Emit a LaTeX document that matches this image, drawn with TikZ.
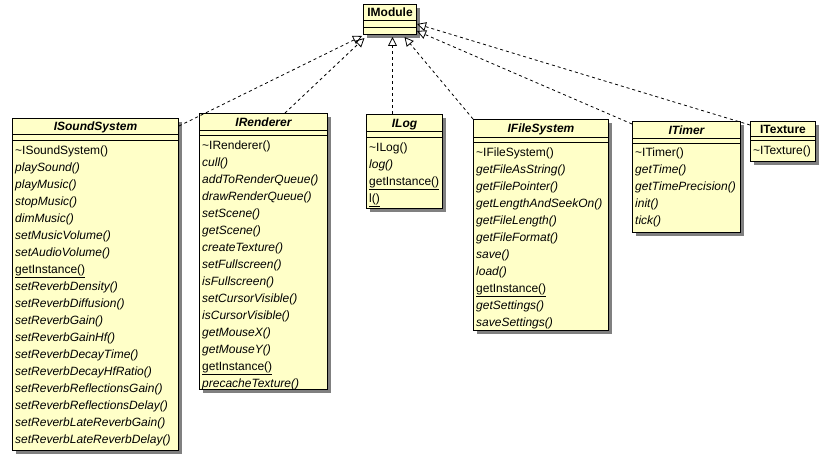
\documentclass[tikz,border=0pt]{standalone}
\usepackage{fontspec}
\setmainfont{Liberation Sans}
\usetikzlibrary{arrows.meta,shadows}
\definecolor{classfill}{RGB}{255,255,200}
\newcommand\abst[1]{\textit{#1}}
\newcommand\stat[1]{\underline{#1}}
\newcommand\tl{\textasciitilde}
\tikzset{
  classbox/.style={draw=black, line width=1pt, fill=classfill, anchor=north west, inner sep=0pt,
    drop shadow={shadow xshift=3.5pt, shadow yshift=-3.5pt, fill=black!50, opacity=1}},
  sepline/.style={draw=black, line width=1pt},
  titlestyle/.style={anchor=base, inner sep=0pt, font=\fontsize{12}{14}\selectfont\bfseries\itshape},
  methodstyle/.style={anchor=base west, inner sep=0pt, font=\fontsize{12}{14}\selectfont},
  realize/.style={draw=black, line width=0.8pt, dash pattern=on 3pt off 3pt,
    -{Triangle[open, length=9pt, width=9pt, line width=0.8pt]}}
}
% #1 name, #2 x, #3 y, #4 w, #5 h, #6 band1, #7 band2, #8 title, #9 methods
\newcommand\umlclass[9]{%
  \node[classbox, minimum width=#4pt, minimum height=#5pt] (#1) at (#2,#3) {};
  \draw[sepline] ([yshift=-#6pt]#1.north west) -- ([yshift=-#6pt]#1.north east);
  \draw[sepline] ([yshift=-#7pt]#1.north west) -- ([yshift=-#7pt]#1.north east);
  \node[titlestyle] (#1-title) at ([yshift={-0.5*#6pt-4.5pt}]#1.north) {#8};
  \foreach \m [count=\i] in {#9} {
    \node[methodstyle] (#1-m\i) at ([xshift=3pt,yshift={-#7pt-13.5pt-17pt*(\i-1)}]#1.north west) {\m};
  }%
}
\begin{document}
\begin{tikzpicture}[x=1pt,y=-1pt]
\useasboundingbox (0,0) rectangle (833,465);
% IModule
\node[classbox, minimum width=53pt, minimum height=30pt] (mod) at (363,4) {};
\draw[sepline] ([yshift=-17pt]mod.north west) -- ([yshift=-17pt]mod.north east);
\draw[sepline] ([yshift=-23.5pt]mod.north west) -- ([yshift=-23.5pt]mod.north east);
\node[titlestyle, font=\fontsize{12}{14}\selectfont\bfseries] (mod-title) at ([yshift=-13pt]mod.north) {IModule};

\umlclass{snd}{12}{118}{166}{332}{17}{23}{ISoundSystem}{%
  \tl ISoundSystem(), \abst{playSound()}, \abst{playMusic()}, \abst{stopMusic()}, \abst{dimMusic()},
  \abst{setMusicVolume()}, \abst{setAudioVolume()}, \stat{getInstance()}, \abst{setReverbDensity()},
  \abst{setReverbDiffusion()}, \abst{setReverbGain()}, \abst{setReverbGainHf()}, \abst{setReverbDecayTime()},
  \abst{setReverbDecayHfRatio()}, \abst{setReverbReflectionsGain()}, \abst{setReverbReflectionsDelay()},
  \abst{setReverbLateReverbGain()}, \abst{setReverbLateReverbDelay()}}

\umlclass{ren}{199}{113}{128}{276}{18}{23}{IRenderer}{%
  \tl IRenderer(), \abst{cull()}, \abst{addToRenderQueue()}, \abst{drawRenderQueue()}, \abst{setScene()},
  \abst{getScene()}, \abst{createTexture()}, \abst{setFullscreen()}, \abst{isFullscreen()},
  \abst{setCursorVisible()}, \abst{isCursorVisible()}, \abst{getMouseX()}, \abst{getMouseY()},
  \stat{getInstance()}, \abst{precacheTexture()}}

\umlclass{log}{366}{114}{76}{94}{18}{24}{ILog}{%
  \tl ILog(), \abst{log()}, \stat{getInstance()}, \stat{l()}}

\umlclass{fs}{473}{119}{135}{211}{19}{24}{IFileSystem}{%
  \tl IFileSystem(), \abst{getFileAsString()}, \abst{getFilePointer()}, \abst{getLengthAndSeekOn()},
  \abst{getFileLength()}, \abst{getFileFormat()}, \abst{save()}, \abst{load()}, \stat{getInstance()},
  \abst{getSettings()}, \abst{saveSettings()}}

\umlclass{tim}{632}{121}{108}{111}{18}{22.5}{ITimer}{%
  \tl ITimer(), \abst{getTime()}, \abst{getTimePrecision()}, \abst{init()}, \abst{tick()}}

\umlclass{tex}{750}{121}{65}{40}{16}{20}{\upshape ITexture}{\tl ITexture()}

% realizations
\draw[realize] ([yshift=-8pt]snd.north east) -- ([xshift=-1pt,yshift=-1pt]mod.south west);
\draw[realize] ([xshift=86pt]ren.north west) -- ([xshift=1.5pt,yshift=-3pt]mod.south west);
\draw[realize] ([xshift=-12pt]log.north) -- ([xshift=2.5pt,yshift=-2pt]mod.south);
\draw[realize] (fs.north west) -- ([xshift=14.5pt,yshift=-2pt]mod.south);
\draw[realize] ([yshift=-3pt]tim.north west) -- ([yshift=-27pt]mod.north east);
\draw[realize] ([yshift=-4pt]tex.north west) -- ([yshift=-20pt]mod.north east);
\end{tikzpicture}
\end{document}
